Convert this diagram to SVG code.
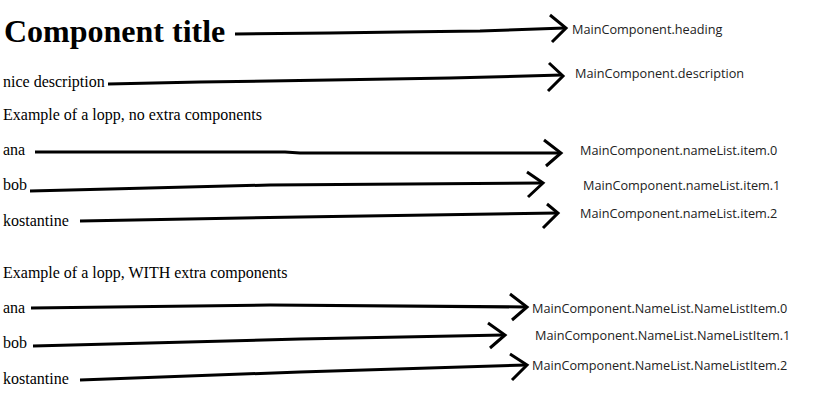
<svg xmlns="http://www.w3.org/2000/svg" width="814" height="412" viewBox="0 0 814 412">
<style>
.src{font-family:"Liberation Serif","Times New Roman",serif;font-size:16px;fill:#000}
.title{font-family:"Liberation Serif","Times New Roman",serif;font-size:32px;font-weight:bold;fill:#000}
.lbl{font-family:"Open Sans","Noto Sans",sans-serif;font-size:12.7px;fill:#222}
.ln{fill:none;stroke:#000;stroke-width:3;stroke-linejoin:round;stroke-linecap:butt}
.hd{fill:none;stroke:#000;stroke-width:3;stroke-linejoin:miter;stroke-linecap:butt}
</style>
<rect width="814" height="412" fill="#fff"/>
<g id="sources">
<g id="n-title"><text class="title" x="4" y="42">Component title</text></g>
<g id="n-desc"><text class="src" x="3" y="87">nice description</text></g>
<g id="n-sec1"><text class="src" x="3" y="120">Example of a lopp, no extra components</text></g>
<g id="n-ana1"><text class="src" x="3" y="155">ana</text></g>
<g id="n-bob1"><text class="src" x="3" y="190">bob</text></g>
<g id="n-kos1"><text class="src" x="3" y="226">kostantine</text></g>
<g id="n-sec2"><text class="src" x="3" y="278">Example of a lopp, WITH extra components</text></g>
<g id="n-ana2"><text class="src" x="3" y="313">ana</text></g>
<g id="n-bob2"><text class="src" x="3" y="348">bob</text></g>
<g id="n-kos2"><text class="src" x="3" y="384">kostantine</text></g>
</g>
<g id="targets">
<g id="t-heading"><text class="lbl" x="572" y="34">MainComponent.heading</text></g>
<g id="t-desc"><text class="lbl" x="575" y="78">MainComponent.description</text></g>
<g id="t-item0"><text class="lbl" x="580" y="155">MainComponent.nameList.item.0</text></g>
<g id="t-item1"><text class="lbl" x="583" y="190">MainComponent.nameList.item.1</text></g>
<g id="t-item2"><text class="lbl" x="580" y="218">MainComponent.nameList.item.2</text></g>
<g id="t-nli0"><text class="lbl" x="532" y="313">MainComponent.NameList.NameListItem.0</text></g>
<g id="t-nli1"><text class="lbl" x="535" y="340">MainComponent.NameList.NameListItem.1</text></g>
<g id="t-nli2"><text class="lbl" x="532" y="370">MainComponent.NameList.NameListItem.2</text></g>
</g>
<g id="connectors">
<polyline class="ln" points="235,34 330,33 400,32 480,31 565,28"/>
<polyline class="hd" points="550,15 566,28 552,42"/>
<polyline class="ln" points="108,84 200,82 330,80 450,78 562,75"/>
<polyline class="hd" points="549,63 563,76 548,91"/>
<polyline class="ln" points="35,152 285,152 300,153 560,153"/>
<polyline class="hd" points="544,140 561,153 546,166"/>
<polyline class="ln" points="30,191 110,189 270,185 542,183"/>
<polyline class="hd" points="527,172 543,183 528,197"/>
<polyline class="ln" points="80,221 300,217 557,213"/>
<polyline class="hd" points="547,204 558,213 543,228"/>
<polyline class="ln" points="31,308 270,305 526,307"/>
<polyline class="hd" points="510,294 527,307 512,320"/>
<polyline class="ln" points="33,346 300,339 504,335"/>
<polyline class="hd" points="488,323 505,335 490,348"/>
<polyline class="ln" points="80,380 300,372 526,365"/>
<polyline class="hd" points="510,354 527,365 512,380"/>
</g>
</svg>
